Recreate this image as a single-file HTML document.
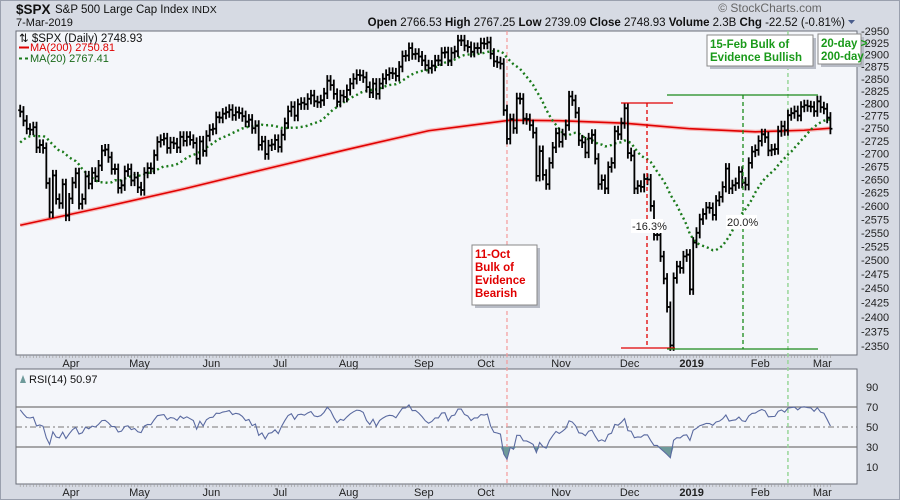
<!DOCTYPE html>
<html><head><meta charset="utf-8">
<style>
body{margin:0;width:900px;height:500px;overflow:hidden;background:#d6dae3;font-family:"Liberation Sans",sans-serif}
svg{position:absolute;left:0;top:0}
</style></head>
<body>
<svg id="c" width="900" height="500" font-family="Liberation Sans, sans-serif">
<rect x="0.5" y="0.5" width="899" height="499" fill="#d6dae3" stroke="#9aa0ae"/>
<text x="16" y="14" font-size="13.5" font-weight="bold" fill="#111">$SPX</text>
<text x="55" y="13" font-size="11.5" fill="#111">S&amp;P 500 Large Cap Index <tspan font-size="10.5">INDX</tspan></text>
<text x="16" y="26" font-size="11" fill="#111">7-Mar-2019</text>
<text x="770" y="12" font-size="12" fill="#666" text-anchor="middle">© StockCharts.com</text>
<text x="845" y="26" font-size="11.5" fill="#111" text-anchor="end"><tspan font-weight="bold">Open</tspan> 2766.53  <tspan font-weight="bold">High</tspan> 2767.25  <tspan font-weight="bold">Low</tspan> 2739.09  <tspan font-weight="bold">Close</tspan> 2748.93  <tspan font-weight="bold">Volume</tspan> 2.3B  <tspan font-weight="bold">Chg</tspan> -22.52 (-0.81%)</text>
<path d="M848,20 l7,0 l-3.5,4z" fill="#4a5d8c"/>
<rect x="16" y="31" width="841" height="324" fill="#f4f6fa" stroke="#6a6e78"/>
<rect x="16" y="369" width="841" height="115" fill="#f4f6fa" stroke="#6a6e78"/>
<g id="g"></g>
</svg>
<script>
// ---- data ----
var preCloses=[2656,2662,2698,2731,2732,2716,2701,2703,2747,2780,2744,2714,2678,2691,2721,2728,2727,2739,2786];
var closes=[2783,2765,2749,2747,2752,2712,2717,2711,2643,2588,2658,2613,2605,2641,
2582,2614,2644,2662,2604,2613,2656,2642,2663,2656,2677,2706,2708,2693,2670,2670,2634,2639,2666,2670,2648,
2654,2635,2630,2663,2672,2671,2697,2723,2727,2730,2711,2722,2720,2712,2733,2725,2733,2727,2721,2690,2724,2705,
2735,2747,2749,2772,2771,2779,2782,2787,2776,2782,2780,2774,2763,2767,2750,2755,2717,2724,2699,2716,2718,
2727,2713,2737,2760,2784,2793,2775,2798,2801,2798,2809,2816,2804,2802,2806,2820,2846,2837,2819,2803,2816,
2813,2827,2840,2850,2858,2857,2853,2833,2822,2840,2819,2840,2850,2858,2862,2861,2856,2875,2897,2898,2914,2901,2902,
2896,2888,2878,2872,2877,2888,2888,2904,2905,2888,2904,2907,2930,2930,2919,2916,2906,2914,2914,
2924,2923,2926,2902,2886,2884,2881,2786,2729,2768,2750,2810,2809,2769,2768,2756,2741,2657,2705,2659,2641,2682,2712,
2740,2723,2738,2756,2814,2806,2781,2726,2722,2702,2730,2737,2690,2641,2649,2633,2674,2682,2744,2738,2760,
2790,2701,2696,2633,2638,2636,2651,2650,2600,2546,2546,2507,2467,2417,2351,2468,2489,2486,2507,
2510,2448,2532,2550,2575,2585,2597,2596,2583,2610,2617,2636,2671,2633,2639,2643,2665,2644,2640,2682,2704,
2707,2725,2738,2732,2706,2708,2709,2744,2754,2746,2776,2780,2784,2775,2793,2796,2794,2793,2784,
2804,2792,2789,2771,2749];
var ma200Idx=[0,25,50,75,100,125,150,165,185,205,225,240,248];
var ma200Val=[2564,2597,2632,2670,2708,2745,2766,2765,2760,2749,2743,2746,2750];
var priceTicks=[2950,2925,2900,2875,2850,2825,2800,2775,2750,2725,2700,2675,2650,2625,2600,2575,2550,2525,2500,2475,2450,2425,2400,2375,2350];
var monthLabels=["Apr","May","Jun","Jul","Aug","Sep","Oct","Nov","Dec","2019","Feb","Mar"];
var monthIdx=[14,35,57,78,99,122,141,164,185,204,225,244];
var rsiTicks=[90,70,50,30,10];

// ---- axes ----
var X0=20.2,DX=3.267;
function xs(i){return X0+i*DX;}
function ys(p){return 31+1385*Math.log(2950/p);}
function ry(v){return 477-v;}
var NS="http://www.w3.org/2000/svg",g=document.getElementById('g');
function el(t,a,p){var e=document.createElementNS(NS,t);for(var k in a)e.setAttribute(k,a[k]);(p||g).appendChild(e);return e;}

priceTicks.forEach(function(p){
 var y=ys(p);
 var t=el('text',{x:861,y:y+4,'font-size':11,fill:'#222'});t.textContent='-'+p;
 
 
});
rsiTicks.forEach(function(v){
 var t=el('text',{x:866,y:ry(v)+4,'font-size':11,fill:'#222'});t.textContent=v;
 
 
});
monthLabels.forEach(function(m,k){
 [363,492].forEach(function(yy){
  var t=el('text',{x:xs(monthIdx[k])+5,y:yy+4,'font-size':11,fill:'#222','text-anchor':'middle','font-weight':m==='2019'?'bold':'normal'});t.textContent=m;
  
  
 });
});
for(var i=0;i<closes.length;i++){
 el('line',{x1:xs(i),x2:xs(i),y1:355,y2:358,stroke:'#999','stroke-width':0.6});
 el('line',{x1:xs(i),x2:xs(i),y1:484,y2:487,stroke:'#999','stroke-width':0.6});
}

[70,30].forEach(function(v){var l=el('line',{x1:16,x2:857,y1:ry(v),y2:ry(v),stroke:'#777','stroke-width':1.2});
 
 });
var mid=el('line',{x1:16,x2:857,y1:ry(50),y2:ry(50),stroke:'#777','stroke-width':1,'stroke-dasharray':'6,3,2,3'});



var v1=el('line',{x1:xs(149),x2:xs(149),y1:31,y2:484,stroke:'#f49a9a','stroke-width':1.2,'stroke-dasharray':'4,3'});


var v2=el('line',{x1:xs(235),x2:xs(235),y1:31,y2:484,stroke:'#99d699','stroke-width':1.5,'stroke-dasharray':'4,3'});



var d='';ma200Idx.forEach(function(ix,k){d+=(k?'L':'M')+xs(ix)+','+ys(ma200Val[k]);});
el('path',{d:d,fill:'none',stroke:'#f7b8b8','stroke-width':4});
var m2=el('path',{d:d,fill:'none',stroke:'#e00000','stroke-width':1.6});



var all=preCloses.concat(closes),P=preCloses.length;
d='';for(i=0;i<closes.length;i++){var s=0;for(var j=0;j<20;j++)s+=all[P+i-j];d+=(i?'L':'M')+xs(i)+','+ys(s/20);}
var m1=el('path',{d:d,fill:'none',stroke:'#1a7a1a','stroke-width':2.4,'stroke-dasharray':'2,3'});



for(i=0;i<closes.length;i++){
 var c=closes[i],o=all[P+i-1],hi=Math.max(o,c)*1.004,lo=Math.min(o,c)*0.996,x=xs(i);
 var b=el('path',{d:'M'+x+','+ys(hi)+'V'+ys(lo)+'M'+(x-2)+','+ys(o)+'H'+x+'M'+x+','+ys(c)+'H'+(x+2),stroke:'#000','stroke-width':1.8,fill:'none'});
 
 
}

var ag=0,al=0;for(i=1;i<=14;i++){var ch=all[i]-all[i-1];if(ch>0)ag+=ch;else al-=ch;}ag/=14;al/=14;
for(i=15;i<P;i++){ch=all[i]-all[i-1];ag=(ag*13+Math.max(ch,0))/14;al=(al*13+Math.max(-ch,0))/14;}
var rsi=[];for(i=0;i<closes.length;i++){ch=all[P+i]-all[P+i-1];ag=(ag*13+Math.max(ch,0))/14;al=(al*13+Math.max(-ch,0))/14;rsi.push(100-100/(1+ag/(al||1e-9)));}
var fd='';rsi.forEach(function(v,k){fd+=(k?'L':'M')+xs(k)+','+ry(Math.min(v,30));});
fd+='L'+xs(rsi.length-1)+','+ry(30)+'L'+xs(0)+','+ry(30)+'Z';
el('path',{d:fd,fill:'#6e9a9a'});
d='';rsi.forEach(function(v,k){d+=(k?'L':'M')+xs(k)+','+ry(v);});
var rl=el('path',{d:d,fill:'none',stroke:'#5a6aa0','stroke-width':1.1});



function ln(x1,y1,x2,y2,col,dash,name){var l=el('line',{x1:x1,y1:y1,x2:x2,y2:y2,stroke:col,'stroke-width':1.3});if(dash)l.setAttribute('stroke-dasharray','4,3');
 
 }
ln(621,103,673,103,'#e00000',0,'decline-top-line');
ln(621,348,675,348,'#e00000',0,'decline-bottom-line');
ln(647,103,647,348,'#e00000',1,'decline-measure-line');
ln(667,95,818,95,'#1a8a1a',0,'rally-top-line');
ln(667,349,818,349,'#1a8a1a',0,'rally-bottom-line');
ln(743,95,743,349,'#1a8a1a',1,'rally-measure-line');
function lab(x,y,w,txt,name){el('rect',{x:x,y:y-11,width:w,height:14,fill:'#fff'});var t=el('text',{x:x+1,y:y,'font-size':11,fill:'#222'});t.textContent=txt;
 
 }
lab(631,230,32,'-16.3%','decline-percent-label');
lab(726,226,31,'20.0%','rally-percent-label');

function box(x,y,w,h,lines,col,name){
 el('rect',{x:x+3,y:y+3,width:w,height:h,fill:'#b8bcc6'});
 var r=el('rect',{x:x,y:y,width:w,height:h,fill:'#fff',stroke:'#888','stroke-width':1});
 
 
 lines.forEach(function(s,k){var t=el('text',{x:x+3,y:y+13+k*13,'font-size':11.5,'font-weight':'bold',fill:col});t.textContent=s;
  
  });
}
box(472,245,65,60,['11-Oct','Bulk of','Evidence','Bearish'],'#e00000','oct11-annotation');
box(707,35,106,31,['15-Feb Bulk of','Evidence Bullish'],'#1a9a1a','feb15-annotation');
box(818,34,43,30,['20-day >','200-day'],'#1a9a1a','ma-cross-annotation');

function tx(x,y,s,col,name,sz){var t=el('text',{x:x,y:y,'font-size':sz||11,fill:col});t.textContent=s;
 
 }
tx(19,42,'⇅ $SPX (Daily) 2748.93','#111','price-legend',11.5);
el('line',{x1:19,x2:29,y1:47.5,y2:47.5,stroke:'#e00000','stroke-width':2});
tx(30,51,'MA(200) 2750.81','#e00000','ma200-legend');
el('line',{x1:19,x2:29,y1:58.5,y2:58.5,stroke:'#1a7a1a','stroke-width':2,'stroke-dasharray':'3,3'});
tx(30,62,'MA(20) 2767.41','#1a6a1a','ma20-legend');
el('path',{d:'M20,383 L23,375 L26,383Z',fill:'#6e9a9a'});
tx(29,383,'RSI(14) 50.97','#111','rsi-legend');
</script>
</body></html>
